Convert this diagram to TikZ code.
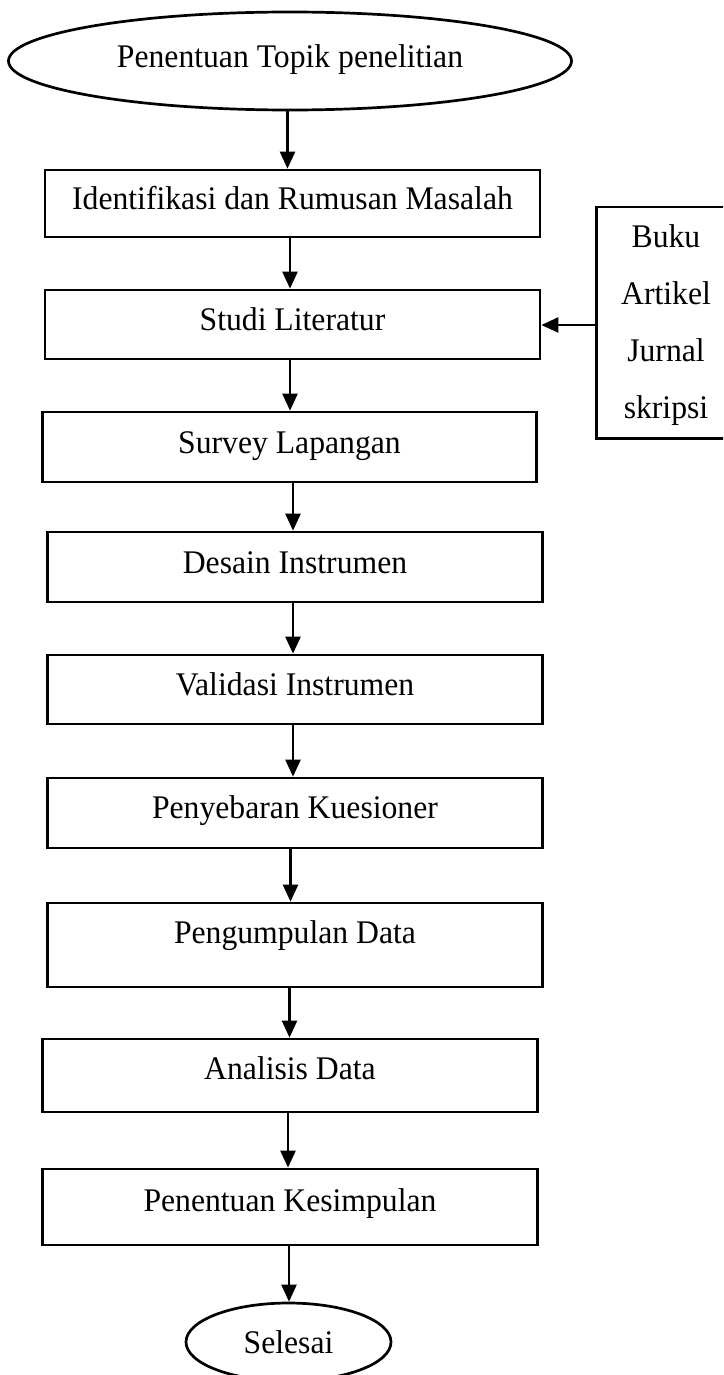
\documentclass[tikz,border=0pt]{standalone}
\usepackage{fontspec}
\setmainfont{Liberation Serif}[FakeStretch=0.96]
\usetikzlibrary{arrows.meta,shapes.geometric}
\tikzset{
  txt/.style={font=\fontsize{33}{57}\selectfont},
  box/.style={draw, line width=2.7pt, rectangle, inner sep=0pt, txt, text depth=5pt},
  srcbox/.style={draw, line width=2.7pt, rectangle, inner sep=0pt, txt, align=center},
  oval/.style={draw, line width=2.7pt, ellipse, inner sep=0pt, txt, text depth=5pt},
  arr/.style={line width=2.4pt, -{Triangle[length=17pt,width=15pt]}},
}
\begin{document}
\begin{tikzpicture}[x=1pt,y=-1pt]
\clip (0,0) rectangle (723,1375);
\fill[white] (0,0) rectangle (723,1375);
\node[oval, minimum width=563, minimum height=98, text height=19pt] (e1) at (290,61) {Penentuan Topik penelitian};
\node[box, minimum width=495, minimum height=67, text height=16pt] (b1) at (292.5,203.5) {Identifikasi dan Rumusan Masalah};
\node[box, minimum width=495, minimum height=69, text height=16pt] (b2) at (292.5,324.5) {Studi Literatur};
\node[box, minimum width=494, minimum height=70, text height=17pt] (b3) at (289.5,447) {Survey Lapangan};
\node[box, minimum width=495, minimum height=70, text height=17pt] (b4) at (295,567) {Desain Instrumen};
\node[box, minimum width=495, minimum height=69, text height=16pt] (b5) at (295,689.5) {Validasi Instrumen};
\node[box, minimum width=495, minimum height=70, text height=15pt] (b6) at (295,813) {Penyebaran Kuesioner};
\node[box, minimum width=495, minimum height=84, text height=1pt] (b7) at (295,945) {Pengumpulan Data};
\node[box, minimum width=494.5, minimum height=73, text height=12pt] (b8) at (290,1075.5) {Analisis Data};
\node[box, minimum width=494.5, minimum height=76, text height=13pt] (b9) at (290,1207) {Penentuan Kesimpulan};
\node[oval, minimum width=205, minimum height=78, text height=27pt] (e2) at (288.5,1342) {Selesai};
\node[srcbox, minimum width=139, minimum height=231.5] (src) at (666,322.75) {\rule{0pt}{28.5pt}Buku\\Artikel\\Jurnal\\skripsi};
\draw[arr] ([xshift=-2.5pt]e1.south) -- ([xshift=-2.5pt]e1.south |- b1.north);
\draw[arr] ([xshift=-2.5pt]b1.south) -- ([xshift=-2.5pt]b1.south |- b2.north);
\draw[arr] ([xshift=-2.5pt]b2.south) -- ([xshift=-2.5pt]b2.south |- b3.north);
\draw[arr] ([xshift=3.5pt]b3.south) -- ([xshift=3.5pt]b3.south |- b4.north);
\draw[arr] ([xshift=-2pt]b4.south) -- ([xshift=-2pt]b4.south |- b5.north);
\draw[arr] ([xshift=-2pt]b5.south) -- ([xshift=-2pt]b5.south |- b6.north);
\draw[arr] ([xshift=-4.5pt]b6.south) -- ([xshift=-4.5pt]b6.south |- b7.north);
\draw[arr] ([xshift=-5.5pt]b7.south) -- ([xshift=-5.5pt]b7.south |- b8.north);
\draw[arr] ([xshift=-2pt]b8.south) -- ([xshift=-2pt]b8.south |- b9.north);
\draw[arr] ([xshift=-1pt]b9.south) -- ([xshift=-1pt]b9.south |- e2.north);
\draw[arr] (src.west |- 0,325) -- (b2.east |- 0,325);
\end{tikzpicture}
\end{document}
